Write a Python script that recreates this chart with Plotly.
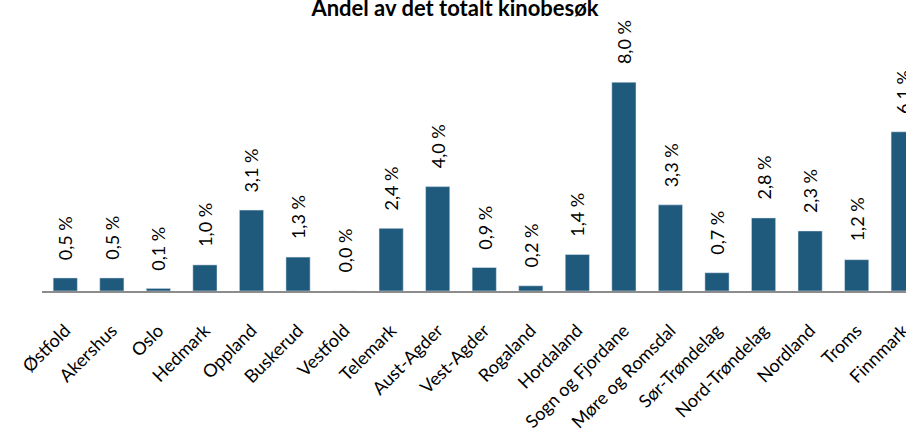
import plotly.graph_objects as go

categories = ["Østfold", "Akershus", "Oslo", "Hedmark", "Oppland", "Buskerud", "Vestfold",
              "Telemark", "Aust-Agder", "Vest-Agder", "Rogaland", "Hordaland", "Sogn og Fjordane",
              "Møre og Romsdal", "Sør-Trøndelag", "Nord-Trøndelag", "Nordland", "Troms", "Finnmark"]
values = [0.5, 0.5, 0.1, 1.0, 3.1, 1.3, 0.0, 2.4, 4.0, 0.9, 0.2, 1.4, 8.0, 3.3, 0.7, 2.8, 2.3, 1.2, 6.1]
labels = [f"{v:.1f}".replace(".", ",") + " %" for v in values]
title = "Andel av det totalt kinobesøk"

FONT = "Lato"
fig = go.Figure()
fig.add_trace(go.Bar(x=list(range(len(categories))), y=values, marker_color="#1f5a7d",
                     width=0.52, showlegend=False, hoverinfo="skip"))
for i, (v, t) in enumerate(zip(values, labels)):
    fig.add_annotation(x=i, y=v, text=t, textangle=-90, showarrow=False,
                       xanchor="center", yanchor="bottom", yshift=16,
                       font=dict(family=FONT, size=18, color="black"))

fig.update_layout(
    width=906, height=436,
    margin=dict(l=42, r=0, t=0, b=145, autoexpand=False),
    paper_bgcolor="white", plot_bgcolor="white",
    title=dict(text=f"<b>{title}</b>", x=455 / 906, xanchor="center",
               y=1 - 8 / 436, yanchor="middle",
               font=dict(family=FONT, size=22, color="black")),
    bargap=0.48,
)
fig.update_xaxes(tickmode="array", tickvals=list(range(len(categories))), ticktext=categories,
                 range=[-0.5, 18.06], tickangle=-45, showline=True, linecolor="#8c8c8c",
                 linewidth=2, ticks="", ticklabelstandoff=20, showgrid=False, automargin=False,
                 ticklabeloverflow="allow",
                 tickfont=dict(family=FONT, size=18, color="black"))
fig.update_yaxes(range=[0, 11.15], visible=False, automargin=False)
fig.write_html("out.html", config={"displayModeBar": False},
               post_script="document.body.style.margin='0';document.body.style.overflow='hidden';")
